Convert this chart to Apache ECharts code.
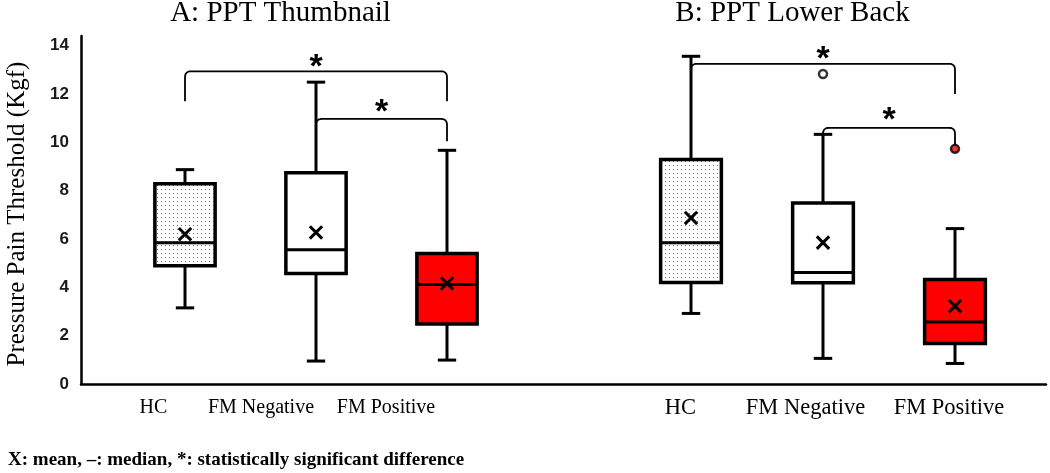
<!DOCTYPE html>
<html><head><meta charset="utf-8">
<script src="https://cdn.jsdelivr.net/npm/echarts@6/dist/echarts.min.js"></script>
<style>html,body{margin:0;padding:0;background:#fff}#c{width:1050px;height:473px}</style>
</head><body><div id="c"></div>
<script>
// ---------------- data ----------------
const categories = ['HC', 'FM Negative', 'FM Positive'];
const panelTitles = ['A: PPT Thumbnail', 'B: PPT Lower Back'];
const yAxisTitle = 'Pressure Pain Threshold (Kgf)';
const footnote = 'X: mean, \u2013: median, *: statistically significant difference';
const yTicks = [0, 2, 4, 6, 8, 10, 12, 14];
// each box: [whisker low, Q1, median, Q3, whisker high]
const thumbBoxes = [[3.15, 4.89, 5.85, 8.29, 8.87], [0.95, 4.57, 5.56, 8.74, 12.49], [0.99, 2.48, 4.12, 5.40, 9.67]];
const thumbMeans = [6.20, 6.27, 4.16];
const thumbOutliers = [];
const backBoxes = [[2.92, 4.20, 5.85, 9.29, 13.56], [1.06, 4.19, 4.61, 7.49, 10.33], [0.85, 1.68, 2.57, 4.32, 6.43]];
const backMeans = [6.87, 5.85, 3.22];
const backOutliers = [['FM Negative', 12.83], ['FM Positive', 9.73]];
// significance brackets: [from category, to category, top, left end, right end, star level]
const thumbSig = [[0, 2, 12.94, 11.70, 11.70, 13.40], [1, 2, 10.97, 10.04, 10.04, 11.50]];
const backSig = [[0, 2, 13.25, 12.00, 12.00, 13.70], [1, 2, 10.60, 9.67, 9.87, 11.18]];

// ---------------- styles ----------------
const yMax = 14.4;
const pat = document.createElement('canvas');
pat.width = 4; pat.height = 4;
(function () {
  const g = pat.getContext('2d');
  g.fillStyle = '#ffffff'; g.fillRect(0, 0, 4, 4);
  g.fillStyle = '#6e6e6e'; g.fillRect(1, 1, 1, 1);
})();
const boxFills = [{ image: pat, repeat: 'repeat' }, '#ffffff', '#ff0000'];
const outlierFills = { 'FM Negative': '#ffffff', 'FM Positive': '#ff0000' };
const panelLabelFont = ['20px "Liberation Serif"', '22.5px "Liberation Serif"'];
const panelLabelX = [[153.5, 261, 386], [680.5, 805.5, 949]];
const titleX = [280.5, 792.5];

function boxRender(params, api) {
  const i = api.value(0);
  const lo = api.coord([i, api.value(1)]);
  const q1 = api.coord([i, api.value(2)]);
  const md = api.coord([i, api.value(3)]);
  const q3 = api.coord([i, api.value(4)]);
  const hi = api.coord([i, api.value(5)]);
  const mn = api.coord([i, api.value(6)]);
  const band = api.size([1, 0])[0];
  const bw = band * 0.46, cw = band * 0.14, cx = lo[0];
  const ln = { stroke: '#000', lineWidth: 3 };
  const m = 6.2;
  return {
    type: 'group',
    children: [
      { type: 'line', shape: { x1: cx, y1: q3[1], x2: cx, y2: hi[1] }, style: ln },
      { type: 'line', shape: { x1: cx, y1: lo[1], x2: cx, y2: q1[1] }, style: ln },
      { type: 'line', shape: { x1: cx - cw / 2, y1: hi[1], x2: cx + cw / 2, y2: hi[1] }, style: ln },
      { type: 'line', shape: { x1: cx - cw / 2, y1: lo[1], x2: cx + cw / 2, y2: lo[1] }, style: ln },
      { type: 'rect', shape: { x: cx - bw / 2, y: q3[1], width: bw, height: q1[1] - q3[1] },
        style: { fill: boxFills[i], stroke: '#000', lineWidth: 3.5 } },
      { type: 'line', shape: { x1: cx - bw / 2, y1: md[1], x2: cx + bw / 2, y2: md[1] }, style: ln },
      { type: 'line', shape: { x1: cx - m, y1: mn[1] - m, x2: cx + m, y2: mn[1] + m }, style: ln },
      { type: 'line', shape: { x1: cx - m, y1: mn[1] + m, x2: cx + m, y2: mn[1] - m }, style: ln }
    ]
  };
}

function sigRender(params, api) {
  const a = api.value(0), b = api.value(1);
  const top = api.value(2);
  const pL = api.coord([a, api.value(3)]);
  const pR = api.coord([b, api.value(4)]);
  const pT1 = api.coord([a, top]);
  const pT2 = api.coord([b, top]);
  const pS = api.coord([(a + b) / 2, api.value(5)]);
  const r = 6;
  const pts = [[pL[0], pL[1]], [pL[0], pT1[1] + r]];
  for (let k = 1; k <= 6; k++) {
    const t = k / 6;
    const x = (1 - t) * (1 - t) * pL[0] + 2 * (1 - t) * t * pL[0] + t * t * (pL[0] + r);
    const y = (1 - t) * (1 - t) * (pT1[1] + r) + 2 * (1 - t) * t * pT1[1] + t * t * pT1[1];
    pts.push([x, y]);
  }
  pts.push([pT2[0] - r, pT2[1]]);
  for (let k = 1; k <= 6; k++) {
    const t = k / 6;
    const x = (1 - t) * (1 - t) * (pT2[0] - r) + 2 * (1 - t) * t * pT2[0] + t * t * pT2[0];
    const y = (1 - t) * (1 - t) * pT2[1] + 2 * (1 - t) * t * pT2[1] + t * t * (pT2[1] + r);
    pts.push([x, y]);
  }
  pts.push([pR[0], pR[1]]);
  return {
    type: 'group',
    children: [
      { type: 'polyline', shape: { points: pts }, style: { stroke: '#000', lineWidth: 1.8, fill: null } },
      { type: 'text', x: (pL[0] + pR[0]) / 2, y: pS[1] + 7,
        style: { text: '*', font: 'bold 34px "Liberation Sans"', fill: '#000', align: 'center', verticalAlign: 'middle' } }
    ]
  };
}

const gridTop = 36, gridBottom = 89;
const chart = echarts.init(document.getElementById('c'), null, { renderer: 'canvas' });

const graphics = [];
panelTitles.forEach((t, p) => {
  graphics.push({ type: 'text', x: titleX[p], y: 13, style: { text: t, font: '29px "Liberation Serif"', fill: '#000', align: 'center', verticalAlign: 'middle' } });
  categories.forEach((c, k) => {
    graphics.push({ type: 'text', x: panelLabelX[p][k], y: 408, style: { text: c, font: panelLabelFont[p], fill: '#000', align: 'center', verticalAlign: 'middle' } });
  });
});
graphics.push({ type: 'text', x: 17, y: 214, rotation: Math.PI / 2, style: { text: yAxisTitle, font: '25px "Liberation Serif"', fill: '#000', align: 'center', verticalAlign: 'middle' } });
graphics.push({ type: 'text', x: 8, y: 460, style: { text: footnote, font: 'bold 19px "Liberation Serif"', fill: '#000', align: 'left', verticalAlign: 'middle' } });

function toBoxData(boxes, means) { return boxes.map((b, i) => [i].concat(b, [means[i]])); }

chart.setOption({
  animation: false,
  backgroundColor: '#ffffff',
  grid: [
    { left: 81, right: 4, top: gridTop, bottom: gridBottom },
    { left: 185, width: 262, top: gridTop, bottom: gridBottom },
    { left: 691, width: 264, top: gridTop, bottom: gridBottom }
  ],
  xAxis: [
    { gridIndex: 0, type: 'value', min: 0, max: 1, axisLine: { show: true, lineStyle: { color: '#000', width: 2.5 } }, axisTick: { show: false }, axisLabel: { show: false }, splitLine: { show: false } },
    { gridIndex: 1, type: 'category', data: categories, boundaryGap: false, show: false },
    { gridIndex: 2, type: 'category', data: categories, boundaryGap: false, show: false }
  ],
  yAxis: [
    { gridIndex: 0, type: 'value', min: 0, max: yMax, interval: 2,
      axisLine: { show: true, lineStyle: { color: '#000', width: 2.5 } }, axisTick: { show: false }, splitLine: { show: false },
      axisLabel: { margin: 12, padding: [5, 0, 0, 0], color: '#1a1a1a', fontFamily: 'Liberation Sans', fontWeight: 'bold', fontSize: 17,
        formatter: v => (yTicks.indexOf(v) >= 0 ? String(v) : '') } },
    { gridIndex: 1, type: 'value', min: 0, max: yMax, interval: 2, show: false },
    { gridIndex: 2, type: 'value', min: 0, max: yMax, interval: 2, show: false }
  ],
  series: [
    { type: 'custom', xAxisIndex: 1, yAxisIndex: 1, renderItem: boxRender, data: toBoxData(thumbBoxes, thumbMeans), encode: { x: 0, y: [1, 2, 3, 4, 5, 6] }, clip: false, z: 2 },
    { type: 'custom', xAxisIndex: 2, yAxisIndex: 2, renderItem: boxRender, data: toBoxData(backBoxes, backMeans), encode: { x: 0, y: [1, 2, 3, 4, 5, 6] }, clip: false, z: 2 },
    { type: 'custom', xAxisIndex: 1, yAxisIndex: 1, renderItem: sigRender, data: thumbSig, encode: { x: [0, 1], y: [2, 3, 4, 5] }, clip: false, z: 3 },
    { type: 'custom', xAxisIndex: 2, yAxisIndex: 2, renderItem: sigRender, data: backSig, encode: { x: [0, 1], y: [2, 3, 4, 5] }, clip: false, z: 3 },
    { type: 'scatter', xAxisIndex: 1, yAxisIndex: 1, data: thumbOutliers, symbol: 'circle', symbolSize: 8, z: 4 },
    { type: 'scatter', xAxisIndex: 2, yAxisIndex: 2, symbol: 'circle', symbolSize: 8, z: 4,
      data: backOutliers.map(o => ({ value: o, itemStyle: { color: outlierFills[o[0]], borderColor: '#000', borderWidth: 2.5 } })) }
  ],
  graphic: graphics
});
</script></body></html>
